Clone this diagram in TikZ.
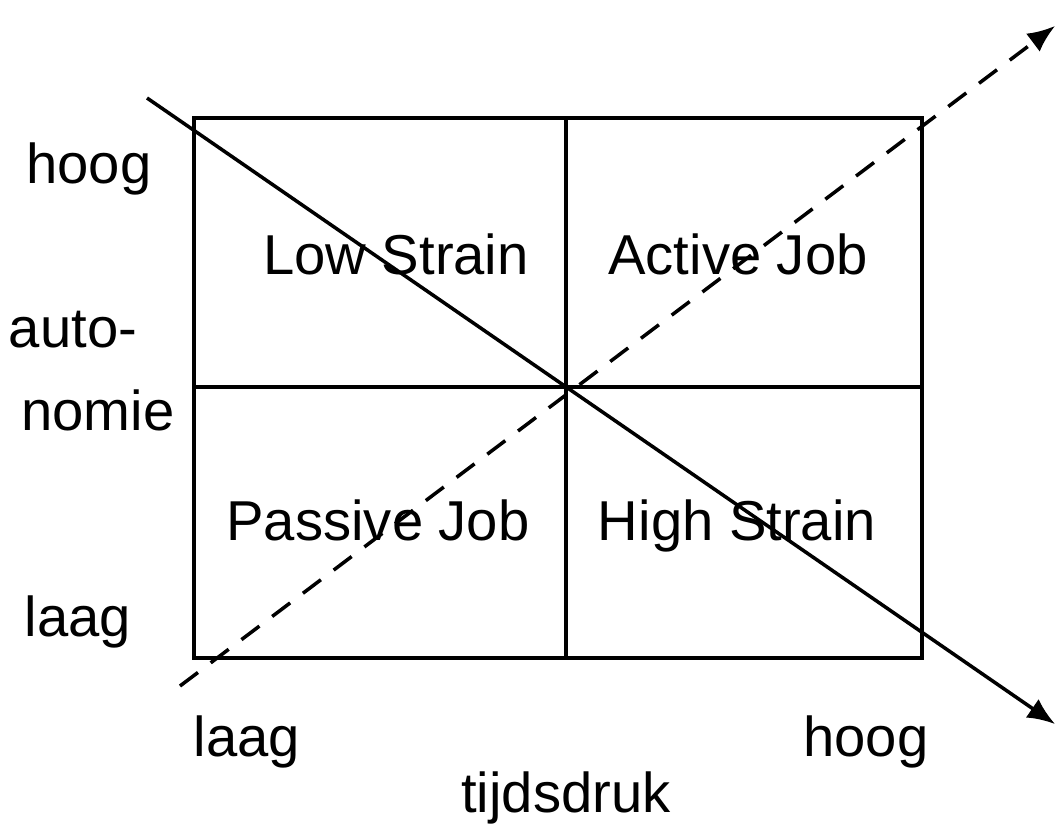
\documentclass[tikz,border=0pt]{standalone}
\usepackage{fontspec}
\setmainfont{Liberation Sans}
\usetikzlibrary{arrows.meta}

\begin{document}
\begin{tikzpicture}[
  x=0.02cm,y=-0.02cm,
  lbl/.style={font=\fontsize{32}{38}\selectfont,inner sep=0pt,text height=0.72em,text depth=0.2em},
  grid/.style={line width=2pt},
  diag/.style={line width=2pt,-{Latex[length=5.5mm,width=4.5mm]}}
]
  \useasboundingbox (0,0) rectangle (1058,828);

  % quadrant box
  \coordinate (TL) at (194,118);
  \coordinate (BR) at (922,658);
  \coordinate (C) at (566,387);
  \draw[grid] (TL) rectangle (BR);
  \draw[grid] (566,118) -- (566,658);
  \draw[grid] (194,387) -- (922,387);

  % quadrant labels
  \node[lbl] (low) at (396,270) {Low Strain};
  \node[lbl] (active) at (738,270) {Active Job};
  \node[lbl] (passive) at (378,536) {Passive Job};
  \node[lbl] (high) at (737,536) {High Strain};

  % vertical axis
  \node[lbl] (vhigh) at (89,179) {hoog};
  \node[lbl] (auto) at (73,343) {auto-};
  \node[lbl] (nomie) at (98,426) {nomie};
  \node[lbl] (vlow) at (78,632) {laag};

  % horizontal axis
  \node[lbl] (hlow) at (247,752) {laag};
  \node[lbl] (hhigh) at (866,752) {hoog};
  \node[lbl] (time) at (566,808) {tijdsdruk};

  % diagonals
  \coordinate (s0) at (147,98);
  \coordinate (s1) at (1055,724);
  \coordinate (d0) at (180,686);
  \coordinate (d1) at (1055,26);
  \draw[diag] (s0) -- (s1);
  \draw[diag,dash pattern=on 0.45cm off 0.32cm] (d0) -- (d1);
\end{tikzpicture}
\end{document}
